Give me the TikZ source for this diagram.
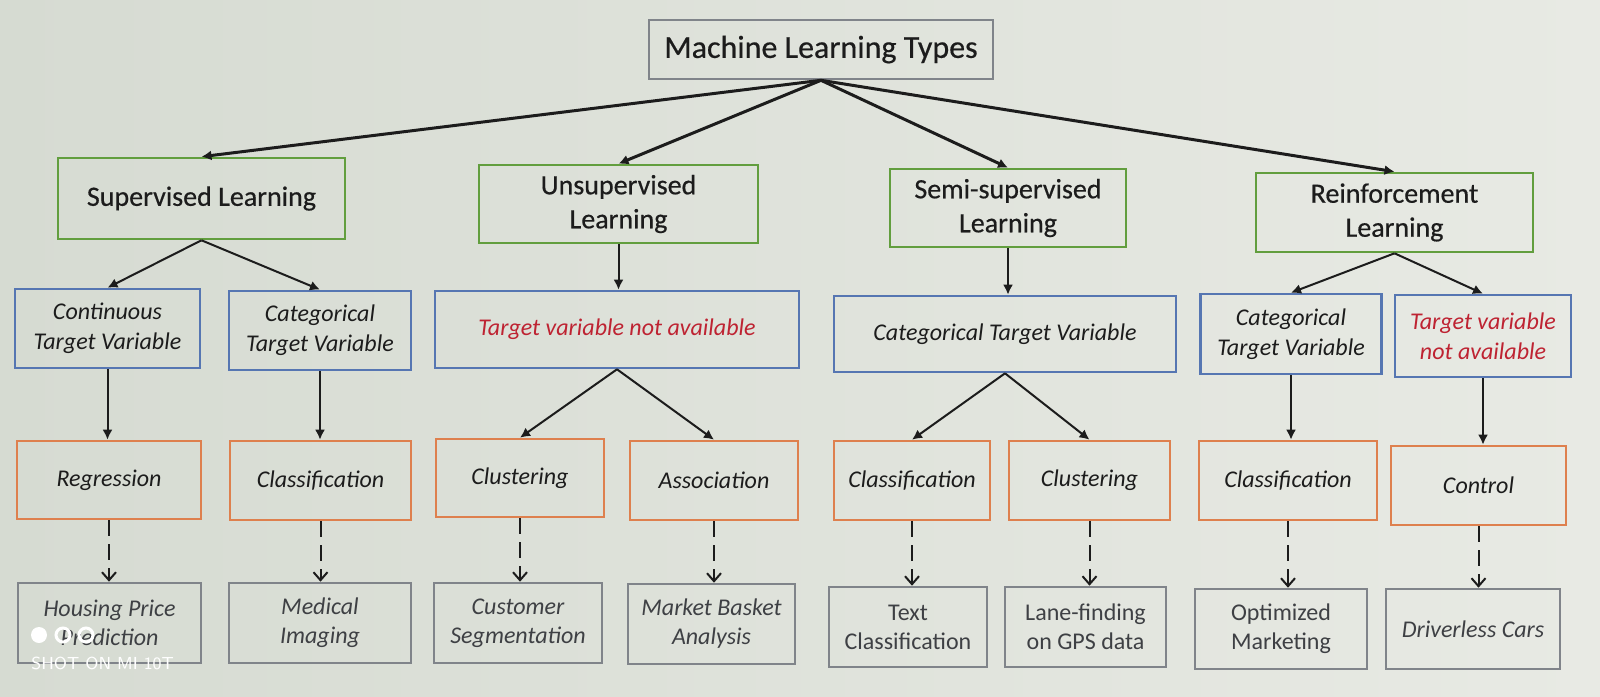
\documentclass[tikz,border=0pt]{standalone}
\usepackage{fontspec}
\setmainfont{Carlito}
\newfontfamily\heavyfont[FakeBold=0.5]{Carlito}
\usetikzlibrary{arrows.meta}
\definecolor{bgL}{RGB}{214,219,210}
\definecolor{bgR}{RGB}{232,234,228}
\definecolor{grn}{RGB}{98,158,62}
\definecolor{blu}{RGB}{86,118,178}
\definecolor{org}{RGB}{222,128,78}
\definecolor{gry}{RGB}{128,132,138}
\definecolor{txt}{RGB}{28,28,28}
\definecolor{txtg}{RGB}{62,64,68}
\definecolor{myred}{RGB}{190,35,50}
\tikzset{
  box/.style={draw, line width=1.3pt, align=center, inner sep=0pt, text=txt},
  topbox/.style={box, draw=gry, font=\heavyfont\fontsize{16}{19}\selectfont},
  hdr/.style={box, draw=grn, font=\heavyfont\fontsize{14}{17}\selectfont},
  bl/.style={box, draw=blu, font=\fontsize{12}{15}\itshape\selectfont},
  ob/.style={box, draw=org, font=\fontsize{12}{15}\itshape\selectfont},
  gb/.style={box, draw=gry, text=txtg, font=\fontsize{12}{14.5}\itshape\selectfont},
  gbu/.style={box, draw=gry, text=txtg, font=\fontsize{12}{14.5}\selectfont},
  toparr/.style={draw=txt, line width=1.5pt, -{Latex[length=5pt,width=5pt]}},
  arr/.style={draw=txt, line width=1pt, -{Latex[length=5pt,width=5pt]}},
  darr/.style={draw=txt, line width=1pt, dash pattern=on 8pt off 4pt, -{Straight Barb[length=4pt,width=7pt]}},
}
\begin{document}
\begin{tikzpicture}[x=0.5pt,y=-0.5pt]
\shade[left color=bgL, right color=bgR] (0,0) rectangle (1600,696);
\useasboundingbox (0,0) rectangle (1600,696);

% level 0
\node[topbox, minimum width=172pt, minimum height=29.5pt] (top) at (821,49.5) {Machine Learning Types};

% level 1
\node[hdr, minimum width=143.5pt, minimum height=40.5pt] (sup) at (201.5,198.5) {Supervised Learning};
\node[hdr, minimum width=139.5pt, minimum height=39pt] (uns) at (618.5,204) {Unsupervised\\Learning};
\node[hdr, minimum width=118pt, minimum height=39pt] (semi) at (1008,208) {Semi-supervised\\Learning};
\node[hdr, minimum width=138.5pt, minimum height=39.5pt] (rein) at (1394.5,212.5) {Reinforcement\\Learning};

% level 2
\node[bl, minimum width=92.5pt, minimum height=39.5pt] (cont) at (107.5,328.5) {Continuous\\Target Variable};
\node[bl, minimum width=91pt, minimum height=39.5pt] (catA) at (320,330.5) {Categorical\\Target Variable};
\node[bl, text=myred, minimum width=182pt, minimum height=38.5pt] (tvnA) at (617,329.5) {Target variable not available};
\node[bl, minimum width=171pt, minimum height=38pt] (catB) at (1005,334) {Categorical Target Variable};
\node[bl, minimum width=90.5pt, minimum height=40pt] (catC) at (1291,334) {Categorical\\Target Variable};
\node[bl, text=myred, minimum width=88pt, minimum height=41pt] (tvnB) at (1483,336) {Target variable\\not available};

% level 3
\node[ob, minimum width=92pt, minimum height=39pt] (reg) at (109,480) {Regression};
\node[ob, minimum width=90.5pt, minimum height=39.5pt] (clsA) at (320.5,480.5) {Classification};
\node[ob, minimum width=84pt, minimum height=39pt] (cluA) at (520,478) {Clustering};
\node[ob, minimum width=84pt, minimum height=39.5pt] (asc) at (714,480.5) {Association};
\node[ob, minimum width=78pt, minimum height=39.5pt] (clsB) at (912,480.5) {Classification};
\node[ob, minimum width=80.5pt, minimum height=39.5pt] (cluB) at (1089.5,480.5) {Clustering};
\node[ob, minimum width=89pt, minimum height=39.5pt] (clsC) at (1288,480.5) {Classification};
\node[ob, minimum width=87.5pt, minimum height=39.5pt] (ctl) at (1478.5,485.5) {Control};

% level 4
\node[gb, minimum width=91.5pt, minimum height=40pt] (hou) at (109.5,623) {Housing Price\\Prediction};
\node[gb, minimum width=91pt, minimum height=40pt] (med) at (320,623) {Medical\\Imaging};
\node[gb, minimum width=84pt, minimum height=40pt] (cus) at (518,623) {Customer\\Segmentation};
\node[gb, minimum width=83.5pt, minimum height=40pt] (mba) at (711.5,624) {Market Basket\\Analysis};
\node[gbu, minimum width=79pt, minimum height=40pt] (txc) at (908,627) {Text\\Classification};
\node[gbu, minimum width=80.5pt, minimum height=40pt] (lan) at (1085.5,627) {Lane-finding\\on GPS data};
\node[gbu, minimum width=86pt, minimum height=40pt] (opt) at (1281,629) {Optimized\\Marketing};
\node[gb, minimum width=87pt, minimum height=40pt] (drv) at (1473,629) {Driverless Cars};

% connectors level 0 -> 1
\coordinate (tb) at (top.south);
\draw[toparr] (tb) -- (sup.north);
\draw[toparr] (tb) -- (uns.north);
\draw[toparr] (tb) -- (semi.north);
\draw[toparr] (tb) -- (rein.north);

% level 1 -> 2
\draw[arr] (sup.south) -- (cont.north);
\draw[arr] (sup.south) -- (catA.north);
\draw[arr] (uns.south) -- (uns.south |- tvnA.north);
\draw[arr] (semi.south) -- (semi.south |- catB.north);
\draw[arr] (rein.south) -- (catC.north);
\draw[arr] (rein.south) -- (tvnB.north);

% level 2 -> 3
\draw[arr] (cont.south) -- (cont.south |- reg.north);
\draw[arr] (catA.south) -- (catA.south |- clsA.north);
\draw[arr] (tvnA.south) -- (cluA.north);
\draw[arr] (tvnA.south) -- (asc.north);
\draw[arr] (catB.south) -- (clsB.north);
\draw[arr] (catB.south) -- (cluB.north);
\draw[arr] (catC.south) -- (catC.south |- clsC.north);
\draw[arr] (tvnB.south) -- (tvnB.south |- ctl.north);

% level 3 -> 4
\draw[darr] (reg.south) -- (reg.south |- hou.north);
\draw[darr] (clsA.south) -- (clsA.south |- med.north);
\draw[darr] (cluA.south) -- (cluA.south |- cus.north);
\draw[darr] (asc.south) -- (asc.south |- mba.north);
\draw[darr] (clsB.south) -- (clsB.south |- txc.north);
\draw[darr] (cluB.south) -- (cluB.south |- lan.north);
\draw[darr] (clsC.south) -- (clsC.south |- opt.north);
\draw[darr] (ctl.south) -- (ctl.south |- drv.north);

% camera watermark
\fill[white] (39,635) circle (8);
\draw[white, line width=1.5pt] (63,635) circle (7);
\draw[white, line width=1.5pt] (86,635) circle (7);
\node[text=white, font=\fontsize{8.7}{10}\sffamily\selectfont, anchor=west, inner sep=0pt] (wm) at (31,663) {SHOT ON MI 10T};
\end{tikzpicture}
\end{document}
